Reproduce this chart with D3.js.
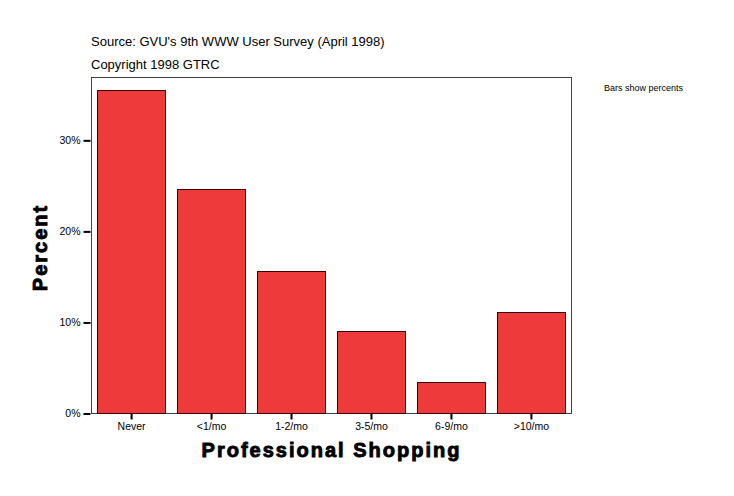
<!DOCTYPE html>
<html>
<head>
<meta charset="utf-8">
<script src="https://cdn.jsdelivr.net/npm/d3@7"></script>
<style>
  body { margin: 0; background: #fff; }
  svg { display: block; }
</style>
</head>
<body>
<div class="chart"></div>
<script>
const categories = ["Never", "<1/mo", "1-2/mo", "3-5/mo", "6-9/mo", ">10/mo"];
const percents = [35.5, 24.7, 15.7, 9.1, 3.5, 11.2];
const yTicks = [0, 10, 20, 30];

const W = 734, H = 496;
const plot = {left: 91.5, right: 571.5, top: 77.5, bottom: 413.5};

const svg = d3.select(".chart").append("svg")
  .attr("width", W)
  .attr("height", H);

const xScale = d3.scaleBand()
  .domain(categories)
  .range([plot.left, plot.right])
  .paddingInner(0.1375)
  .paddingOuter(0.07);

const yScale = d3.scaleLinear()
  .domain([0, 36.9])
  .range([plot.bottom, plot.top]);

// frame
svg.append("rect")
  .attr("x", plot.left)
  .attr("y", plot.top)
  .attr("width", plot.right - plot.left)
  .attr("height", plot.bottom - plot.top)
  .attr("fill", "none")
  .attr("stroke", "#404040")
  .attr("stroke-width", 1);

// bars
svg.selectAll(".bar")
  .data(categories)
  .enter()
  .append("rect")
  .attr("class", "bar")
  .attr("x", d => Math.round(xScale(d)) + 0.5)
  .attr("y", (d, i) => Math.round(yScale(percents[i])) + 0.5)
  .attr("width", Math.floor(xScale.bandwidth()))
  .attr("height", (d, i) => plot.bottom - Math.round(yScale(percents[i])) - 0.5)
  .attr("fill", "#ee3a3b")
  .attr("stroke", "#3a0000")
  .attr("stroke-width", 1);

// y axis
const yAxis = d3.axisLeft(yScale)
  .tickValues(yTicks)
  .tickFormat(d => d + "%")
  .tickSize(7)
  .tickPadding(3);

svg.append("g")
  .attr("transform", `translate(${plot.left - 1}, 0)`)
  .call(yAxis)
  .call(g => g.select(".domain").remove())
  .call(g => g.selectAll(".tick line").attr("stroke", "#000").attr("stroke-width", 2))
  .call(g => g.selectAll(".tick text")
    .attr("font-family", "Arial, 'Liberation Sans', sans-serif")
    .attr("font-size", 10.5)
    .attr("fill", "#000"));

// x axis
const xAxis = d3.axisBottom(xScale)
  .tickSize(6)
  .tickPadding(3);

svg.append("g")
  .attr("transform", `translate(0, ${plot.bottom})`)
  .call(xAxis)
  .call(g => g.select(".domain").remove())
  .call(g => g.selectAll(".tick line").attr("stroke", "#000").attr("stroke-width", 2))
  .call(g => g.selectAll(".tick text")
    .attr("font-family", "Arial, 'Liberation Sans', sans-serif")
    .attr("font-size", 10.5)
    .attr("fill", "#000"));

// axis titles
svg.append("text")
  .attr("x", (plot.left + plot.right) / 2)
  .attr("y", 457)
  .attr("text-anchor", "middle")
  .attr("font-family", "Arial, 'Liberation Sans', sans-serif")
  .attr("font-weight", "900")
  .attr("font-size", 20)
  .attr("letter-spacing", 2)
  .attr("stroke", "#000")
  .attr("stroke-width", 0.9)
  .text("Professional Shopping");

svg.append("text")
  .attr("transform", `translate(47, ${(plot.top + plot.bottom) / 2 + 2}) rotate(-90)`)
  .attr("text-anchor", "middle")
  .attr("font-family", "Arial, 'Liberation Sans', sans-serif")
  .attr("font-weight", "900")
  .attr("font-size", 20)
  .attr("letter-spacing", 2)
  .attr("stroke", "#000")
  .attr("stroke-width", 0.9)
  .text("Percent");

// header notes
svg.append("text")
  .attr("x", 91)
  .attr("y", 46)
  .attr("font-family", "Arial, 'Liberation Sans', sans-serif")
  .attr("font-size", 13)
  .text("Source: GVU's 9th WWW User Survey (April 1998)");

svg.append("text")
  .attr("x", 91)
  .attr("y", 69)
  .attr("font-family", "Arial, 'Liberation Sans', sans-serif")
  .attr("font-size", 13)
  .text("Copyright 1998 GTRC");

svg.append("text")
  .attr("x", 604)
  .attr("y", 91)
  .attr("font-family", "Arial, 'Liberation Sans', sans-serif")
  .attr("font-size", 9)
  .text("Bars show percents");
</script>
</body>
</html>
